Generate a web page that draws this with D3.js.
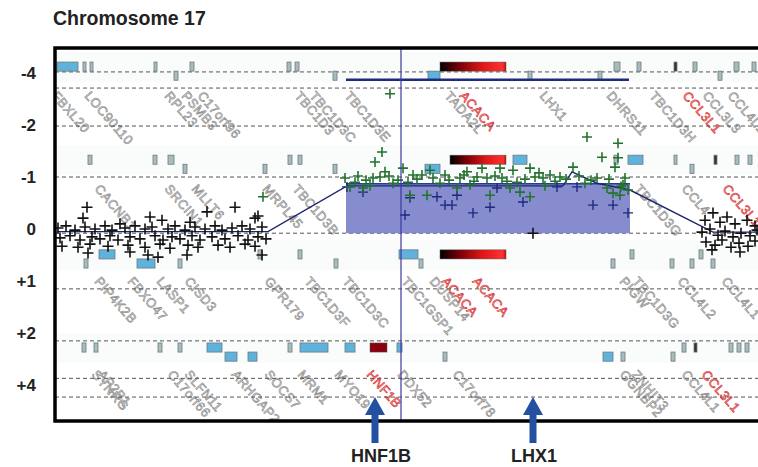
<!DOCTYPE html>
<html>
<head>
<meta charset="utf-8">
<script src="https://cdn.jsdelivr.net/npm/d3@7"></script>
<style>
  body { margin: 0; background: #fff; }
  svg { display: block; font-family: "Liberation Sans", Arial, sans-serif; }
</style>
</head>
<body>
<script>
// position in kb along the window, level = copy number track (-4 .. +4 shown as log steps)
const tickLevels = [-3, -2, -1, 0, 1, 2, 3];
const tickLabels = ["-4", "-2", "-1", "0", "+1", "+2", "+4"];
const guideLevels = [-3.02, -2.71, -1.98, -1.0, 0.08, 1.15, 2.15, 2.87, 3.23];

// [kb, level]
const blackPts = [
  [130,-0.21],[465,-0.23],[525,-0.17],[750,-0.33],[890,-0.42],[990,-0.21],[1005,-0.25],[150,-0.42],[665,-0.13],[315,-0.10],
  [5,-0.02],[45,-0.06],[90,0.02],[140,-0.04],[190,0],[240,-0.06],[275,0.02],[340,-0.02],[390,-0.06],[440,0],[475,-0.04],
  [555,0],[590,-0.06],[640,0.02],[690,-0.04],[740,0],[790,-0.06],[825,0.02],[875,-0.02],[925,-0.06],[965,0],[1025,-0.04],
  [15,0.17],[65,0.13],[115,0.21],[175,0.15],[215,0.19],[265,0.13],[305,0.21],[365,0.15],[415,0.19],[490,0.13],[530,0.21],
  [575,0.15],[615,0.19],[675,0.13],[715,0.21],[775,0.15],[840,0.19],[905,0.13],[955,0.21],[1005,0.15],[1045,0.19],
  [25,0.33],[105,0.35],[165,0.29],[255,0.33],[355,0.31],[440,0.35],[515,0.29],[565,0.37],[655,0.31],[705,0.35],[805,0.31],
  [865,0.35],[940,0.29],[990,0.33],
  [155,0.46],[455,0.50],[505,0.54],[650,0.50],[1025,0.50],[365,0.44],
  [3240,-0.17],[3280,-0.31],[3315,-0.13],[3350,-0.23],[3390,-0.10],[3450,-0.17],[3490,-0.06],[3225,0.06],[3265,0],
  [3305,0.12],[3340,0.04],[3380,0.15],[3420,0.08],[3465,0.13],[3500,0.02],[3245,0.25],[3290,0.31],[3325,0.21],
  [3370,0.35],[3410,0.27],[3455,0.33],[3490,0.23],[3275,0.40],[3415,0.44],
  [2380,0.08]
];

const greenPts = [
  [1625,-1.48],[1590,-1.29],[1440,-0.98],[1580,-0.98],[1615,-1.0],[1640,-1.10],[1680,-0.88],[1730,-1.17],[1780,-1.04],
  [1825,-1.04],[1865,-1.13],[1880,-0.98],[1940,-1.04],[2015,-0.98],[2050,-1.10],[2100,-1.0],[2125,-1.17],[2150,-0.98],
  [2215,-1.17],[2225,-0.98],[2280,-1.13],[2300,-0.90],[2365,-1.17],[2390,-1.0],[2430,-0.98],[2465,-1.04],[2515,-1.0],
  [2580,-1.19],[2700,-0.98],[2725,-1.38],[2790,-1.19],[2805,-1.37],[2840,-0.98],[2750,-0.79],[2780,-0.69],[2815,-0.65],
  [2830,-0.85],[1465,-0.81],[1530,-0.79],[1765,-0.65],[1850,-0.65],[2000,-0.79],[2165,-0.65],[2265,-0.79],[2315,-0.71],
  [2365,-0.62],[2650,-1.77],[2805,-1.65],[1665,-2.60],[1030,-0.62],[1490,-0.90],[1705,-0.94],[1915,-0.88],[2065,-0.85],
  [2440,-0.83],[2640,-0.88],[2855,-0.75],[1565,-0.83],
  [1505,-1.02],[1545,-0.94],[1660,-1.02],[1755,-0.90],[1800,-0.96],[1960,-0.94],[2035,-1.04],[2085,-0.92],[2190,-1.02],
  [2250,-0.92],[2340,-0.96],[2410,-1.08],[2490,-0.92],[2545,-0.96],[2610,-1.02],[2670,-0.94],[2760,-0.96],[2820,-0.82]
];

const bluePts = [
  [1450,-0.81],[1530,-0.71],[1740,-0.27],[1765,-0.60],[1900,-0.62],[1940,-0.46],[1975,-0.46],[2080,-0.31],[2000,-0.65],
  [2200,-0.79],[2330,-0.52],[2500,-0.81],[2600,-0.81],[2680,-0.46],[2780,-0.46],[2855,-0.31],[2165,-0.42]
];

const segmentLine = [[0,0.05],[1055,0.05],[1450,-0.83],[2530,-0.83],[2575,-1.10],[2700,-0.88],[2865,-0.75],[3280,0.06],[3505,0.06]];
const gainSegment = {start: 1445, end: 2865, top: -0.87, bottom: 0.08};
const regionBar = {start: 1445, end: 2860, level: -2.87};
const cursorKb = 1720;

// gene boxes: [startKb, endKb, track row, sub (0 upper / 1 lower), kind]
const geneBoxes = [
  [0,105,0,0,"b"],[130,145,0,0,"g"],[165,180,0,0,"g"],[485,500,0,0,"g"],[585,605,0,1,"g"],[665,685,0,0,"g"],
  [1150,1170,0,0,"g"],[1190,1210,0,0,"g"],[1380,1400,0,1,"g"],[1855,1915,0,1,"b"],[2355,2375,0,1,"g"],[2705,2725,0,1,"g"],
  [2785,2815,0,0,"g"],[2900,2920,0,0,"g"],[3085,3095,0,0,"d"],[3180,3200,0,0,"g"],[3305,3325,0,1,"g"],[3385,3410,0,0,"g"],
  [3475,3495,0,0,"g"],
  [155,175,1,0,"g"],[480,500,1,0,"g"],[555,585,1,0,"g"],[630,650,1,1,"g"],[1030,1050,1,1,"g"],[1155,1175,1,0,"g"],
  [1205,1225,1,0,"g"],[1380,1400,1,1,"g"],[1840,1915,1,1,"b"],[2280,2350,1,0,"b"],[2785,2805,1,0,"g"],[2855,2930,1,0,"b"],
  [3085,3100,1,0,"g"],[3165,3185,1,1,"g"],[3285,3300,1,0,"d"],[3390,3410,1,0,"g"],[3455,3475,1,0,"g"],
  [135,155,2,1,"g"],[210,290,2,0,"b"],[400,490,2,1,"b"],[605,625,2,1,"g"],[1005,1025,2,0,"g"],[1205,1225,2,0,"g"],
  [1385,1405,2,1,"g"],[1710,1805,2,0,"b"],[1810,1830,2,1,"g"],[2770,2790,2,1,"g"],[2865,2885,2,0,"g"],[3065,3085,2,1,"g"],
  [3165,3185,2,1,"g"],[3210,3230,2,0,"g"],[3270,3290,2,1,"g"],
  [125,145,3,0,"g"],[185,205,3,0,"g"],[505,525,3,0,"g"],[605,625,3,0,"g"],[750,825,3,0,"b"],[840,900,3,1,"b"],
  [955,1000,3,1,"b"],[1155,1175,3,0,"g"],[1215,1355,3,0,"b"],[1440,1490,3,0,"b"],[1700,1725,3,0,"b"],[1930,1950,3,1,"g"],
  [2730,2780,3,1,"b"],[2820,2840,3,1,"g"],[3070,3090,3,1,"g"],[3125,3145,3,0,"g"],[3185,3200,3,0,"d"],[3360,3380,3,0,"g"],
  [3400,3420,3,0,"g"],[3440,3460,3,0,"g"]
];

// expression heat bars: [startKb, endKb, track row]
const heatBars = [[1915,2245,0],[1965,2245,1],[1915,2245,2],[1565,1650,3]];

// gene names: [name, kb, band, highlighted]
const geneLabels = [
  ["FBXL20",0,0,0],["LOC90110",165,0,0],["RPL23",565,0,0],["PSMB3",650,0,0],["C17orf96",730,0,0],
  ["TBC1D3",1215,0,0],["TBC1D3C",1290,0,0],["TBC1D3E",1465,0,0],["TADA2L",1965,0,0],["ACACA",2040,0,1],
  ["LHX1",2440,0,0],["DHRS11",2775,0,0],["TBC1D3H",2990,0,0],["CCL3L1",3155,0,1],["CCL3L3",3255,0,0],["CCL4L1",3380,0,0],
  ["CACNB1",215,1,0],["SRCIN1",565,1,0],["MLLT6",700,1,0],["MRPL45",1055,1,0],["TBC1D3B",1205,1,0],
  ["TBC1D3G",2915,1,0],["CCL4",3150,1,0],["CCL3L1",3355,1,1],
  ["PIP4K2B",215,2,0],["FBXO47",380,2,0],["LASP1",525,2,0],["CISD3",665,2,0],["GPR179",1065,2,0],["TBC1D3F",1265,2,0],
  ["TBC1D3C",1455,2,0],["TBC1GSP1",1750,2,0],["DUSP14",1890,2,0],["ACACA",1950,2,1],["ACACA",2105,2,1],
  ["PIGW",2840,2,0],["TBC1D3G",2905,2,0],["CCL4L2",3130,2,0],["CCL4L1",3350,2,0],
  ["SYNRG",200,3,0],["AP2B1",230,3,0],["C17orf66",580,3,0],["SLFN11",665,3,0],["ARHGAP23",900,3,0],["SOCS7",1065,3,0],
  ["MRM1",1230,3,0],["MYO19",1415,3,0],["HNF1B",1575,3,1],["DDX52",1730,3,0],["C17orf78",2005,3,0],
  ["GGNBP2",2840,3,0],["ZNHIT3",2900,3,0],["CCL4L1",3150,3,0],["CCL3L1",3250,3,1]
];

const arrows = [["HNF1B",1590],["LHX1",2380]];

const width = 758;
const height = 467;
const plotLeft = 55;
const plotTop = 48;
const plotBottom = 421;

const x = d3.scaleLinear().domain([0, 3505]).range([57, 758]);
const y = d3.scaleLinear().domain([-3.48, 3.69]).range([plotTop, plotBottom]);

// layout of the annotation tracks, in level units
const rowTops = [-3.21, -1.42, 0.40, 2.19];
const subHeight = 0.175;
const bandLevels = [-2.67, -0.88, 0.90, 2.69];

const svg = d3.create("svg")
  .attr("width", width)
  .attr("height", height)
  .attr("viewBox", [0, 0, width, height]);

const defs = svg.append("defs");
defs.append("clipPath").attr("id", "plotclip")
  .append("rect")
  .attr("x", plotLeft).attr("y", plotTop)
  .attr("width", width - plotLeft).attr("height", plotBottom - plotTop);

const grad = defs.append("linearGradient").attr("id", "heat");
grad.append("stop").attr("offset", "0%").attr("stop-color", "#000");
grad.append("stop").attr("offset", "30%").attr("stop-color", "#7a0008");
grad.append("stop").attr("offset", "65%").attr("stop-color", "#e01818");
grad.append("stop").attr("offset", "95%").attr("stop-color", "#ff3030");
grad.append("stop").attr("offset", "100%").attr("stop-color", "#b01010");

const plot = svg.append("g").attr("clip-path", "url(#plotclip)");

// faint track backgrounds
plot.append("g")
  .selectAll("rect")
  .data(rowTops)
  .join("rect")
    .attr("x", plotLeft)
    .attr("y", d => y(d) - 10)
    .attr("width", width - plotLeft)
    .attr("height", 30)
    .attr("fill", "#fafbfb");

// gene labels
plot.append("g")
  .selectAll("text")
  .data(geneLabels)
  .join("text")
    .attr("transform", d => `translate(${x(d[1]) - 6},${y(bandLevels[d[2]]) + 6}) rotate(49)`)
    .text(d => d[0])
    .attr("font-size", 13)
    .attr("fill", d => d[3] ? "#f8c4c4" : "#f2f2f2")
    .attr("stroke", d => d[3] ? "#d83030" : "#8c8c8c")
    .attr("stroke-width", 0.65)
    .attr("letter-spacing", 0.5);

// dashed guides
plot.append("g")
  .selectAll("line")
  .data(guideLevels)
  .join("line")
    .attr("x1", plotLeft).attr("x2", width)
    .attr("y1", d => y(d)).attr("y2", d => y(d))
    .attr("stroke", "#555")
    .attr("stroke-width", 1)
    .attr("stroke-dasharray", "4,3");

// gained segment
plot.append("rect")
  .attr("x", x(gainSegment.start))
  .attr("y", y(gainSegment.top))
  .attr("width", x(gainSegment.end) - x(gainSegment.start))
  .attr("height", y(gainSegment.bottom) - y(gainSegment.top))
  .attr("fill", "#7f86ca")
  .attr("opacity", 0.95);
plot.append("line")
  .attr("x1", x(gainSegment.start)).attr("x2", x(gainSegment.end))
  .attr("y1", y(gainSegment.top)).attr("y2", y(gainSegment.top))
  .attr("stroke", "#2b3a9a").attr("stroke-width", 1.5);

// gene boxes
const boxFill = {g: "#a9bcbc", b: "#5fb2dc", d: "#333"};
plot.append("g")
  .selectAll("rect")
  .data(geneBoxes)
  .join("rect")
    .attr("x", d => x(d[0]))
    .attr("y", d => y(rowTops[d[2]] + d[3] * subHeight))
    .attr("width", d => Math.max(3, x(d[1]) - x(d[0])))
    .attr("height", d => y(subHeight) - y(0))
    .attr("fill", d => boxFill[d[4]])
    .attr("stroke", "#6b7b80")
    .attr("stroke-width", 0.8);

// heat bars
plot.append("g")
  .selectAll("rect")
  .data(heatBars)
  .join("rect")
    .attr("x", d => x(d[0]))
    .attr("y", d => y(rowTops[d[2]]))
    .attr("width", d => x(d[1]) - x(d[0]))
    .attr("height", d => y(subHeight) - y(0))
    .attr("fill", d => d[1] - d[0] < 150 ? "#8a0010" : "url(#heat)")
    .attr("stroke", "#555")
    .attr("stroke-width", 0.5);

// region bar
plot.append("line")
  .attr("x1", x(regionBar.start)).attr("x2", x(regionBar.end))
  .attr("y1", y(regionBar.level)).attr("y2", y(regionBar.level))
  .attr("stroke", "#1f2a80").attr("stroke-width", 2.5);

// segmentation line
const line = d3.line(d => x(d[0]), d => y(d[1]));
plot.append("path")
  .attr("d", line(segmentLine))
  .attr("fill", "none")
  .attr("stroke", "#1c2470")
  .attr("stroke-width", 1.4);

// probe markers
function plus(g, pts, color, r, w) {
  g.append("g")
    .selectAll("path")
    .data(pts)
    .join("path")
      .attr("d", d => `M${x(d[0]) - r},${y(d[1])}H${x(d[0]) + r}M${x(d[0])},${y(d[1]) - r}V${y(d[1]) + r}`)
      .attr("stroke", color)
      .attr("stroke-width", w)
      .attr("fill", "none");
}
plus(plot, blackPts, "#111", 5.5, 1.6);
plus(plot, bluePts, "#1d2a7e", 5, 1.4);
plus(plot, greenPts, "#23732f", 5, 1.6);

// cursor
plot.append("line")
  .attr("x1", x(cursorKb)).attr("x2", x(cursorKb))
  .attr("y1", plotTop).attr("y2", plotBottom)
  .attr("stroke", "#3a3aa0").attr("stroke-width", 1.2);

// frame (top, left, bottom)
svg.append("path")
  .attr("d", `M${width},${plotTop}H${plotLeft}V${plotBottom}H${width}`)
  .attr("fill", "none")
  .attr("stroke", "#000")
  .attr("stroke-width", 3.5);

// y axis labels
svg.append("g")
  .attr("transform", `translate(${plotLeft + 2},0)`)
  .call(d3.axisLeft(y).tickValues(tickLevels).tickFormat((d, i) => tickLabels[i]).tickSize(0).tickPadding(21))
  .call(g => g.select(".domain").remove())
  .selectAll("text")
    .attr("font-size", 17)
    .attr("font-weight", "bold")
    .attr("font-family", "Liberation Sans, Arial, sans-serif")
    .attr("fill", "#222");

// title
svg.append("text")
  .attr("x", 53).attr("y", 25)
  .text("Chromosome 17")
  .attr("font-size", 19.5)
  .attr("font-weight", "bold")
  .attr("fill", "#222");

// gene arrows
const arrowG = svg.append("g")
  .selectAll("g")
  .data(arrows)
  .join("g")
    .attr("transform", d => `translate(${x(d[1])},0)`);
arrowG.append("path")
  .attr("d", "M0,397L10,415H3.5V443H-3.5V415H-10Z")
  .attr("fill", "#2350a0");
arrowG.append("text")
  .attr("x", (d, i) => i === 0 ? 6 : 1)
  .attr("y", 462)
  .attr("text-anchor", "middle")
  .text(d => d[0])
  .attr("font-size", 18)
  .attr("font-weight", "bold")
  .attr("fill", "#222");

document.body.append(svg.node());
</script>
</body>
</html>
